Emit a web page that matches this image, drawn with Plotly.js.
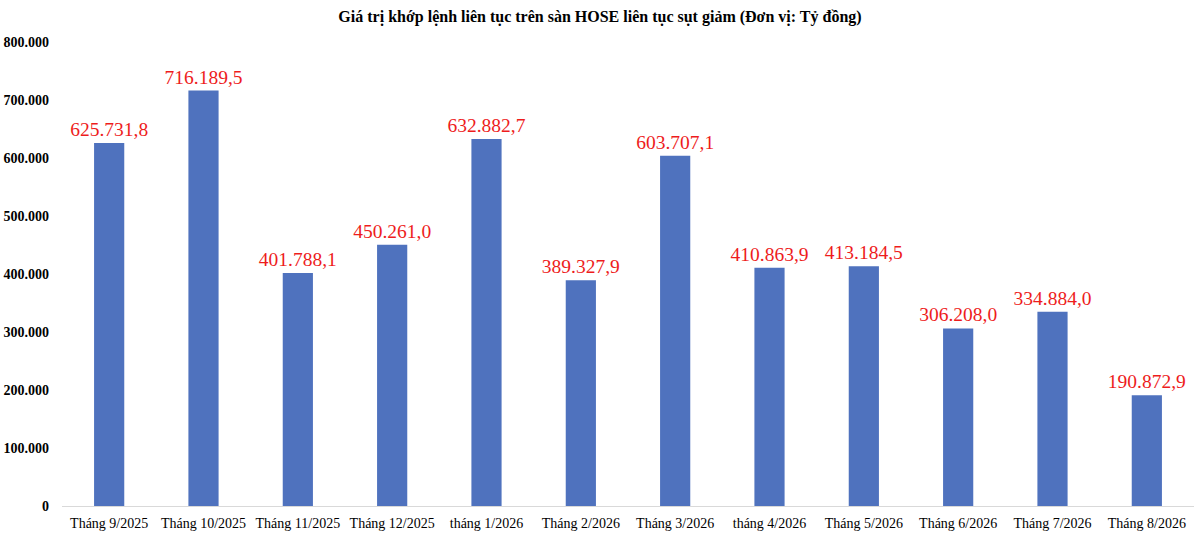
<!DOCTYPE html>
<html><head><meta charset="utf-8">
<script src="https://cdn.plot.ly/plotly-3.0.1.min.js"></script>
<style>html,body{margin:0;padding:0;background:#fff}#c{width:1200px;height:539px}</style>
</head><body><div id="c"></div>
<script>
var categories = ["Tháng 9/2025","Tháng 10/2025","Tháng 11/2025","Tháng 12/2025","tháng 1/2026","Tháng 2/2026","Tháng 3/2026","tháng 4/2026","Tháng 5/2026","Tháng 6/2026","Tháng 7/2026","Tháng 8/2026"];
var values = [625731.8,716189.5,401788.1,450261.0,632882.7,389327.9,603707.1,410863.9,413184.5,306208.0,334884.0,190872.9];
var labels = ["625.731,8","716.189,5","401.788,1","450.261,0","632.882,7","389.327,9","603.707,1","410.863,9","413.184,5","306.208,0","334.884,0","190.872,9"];
var tickVals = [0,100000,200000,300000,400000,500000,600000,700000,800000];
var tickText = ["0","100.000","200.000","300.000","400.000","500.000","600.000","700.000","800.000"];
var serif = "Liberation Serif, Times New Roman, serif";
Plotly.newPlot("c",[{
  type:"bar", x:categories, y:values, text:labels, textposition:"outside",
  constraintext:"none",
  textfont:{family:serif,size:19.5,color:"#ee1c1c"}, cliponaxis:false,
  marker:{color:"#4f72be"}, hoverinfo:"none"
}],{
  width:1200,height:539,
  margin:{l:62,r:6,t:42,b:33},
  paper_bgcolor:"#fff",plot_bgcolor:"#fff",
  bargap:0.68,
  title:{text:"<b>Giá trị khớp lệnh liên tục trên sàn HOSE liên tục sụt giảm (Đơn vị: Tỷ đồng)</b>",
    font:{family:serif,size:16,color:"#000"},x:0.5,xanchor:"center",y:0.97,yanchor:"middle"},
  xaxis:{tickfont:{family:serif,size:14,color:"#000"},showline:true,linecolor:"#d9d9d9",linewidth:1,ticks:"",showgrid:false,ticklabelstandoff:4},
  yaxis:{range:[0,800000],tickvals:tickVals,ticktext:tickText,showgrid:false,zeroline:false,showline:false,
    tickfont:{family:serif,size:14,color:"#000",weight:"bold"},ticks:"",ticklen:0,ticklabelstandoff:12},
  font:{family:serif},
  showlegend:false
},{displayModeBar:false,staticPlot:true});
</script></body></html>
